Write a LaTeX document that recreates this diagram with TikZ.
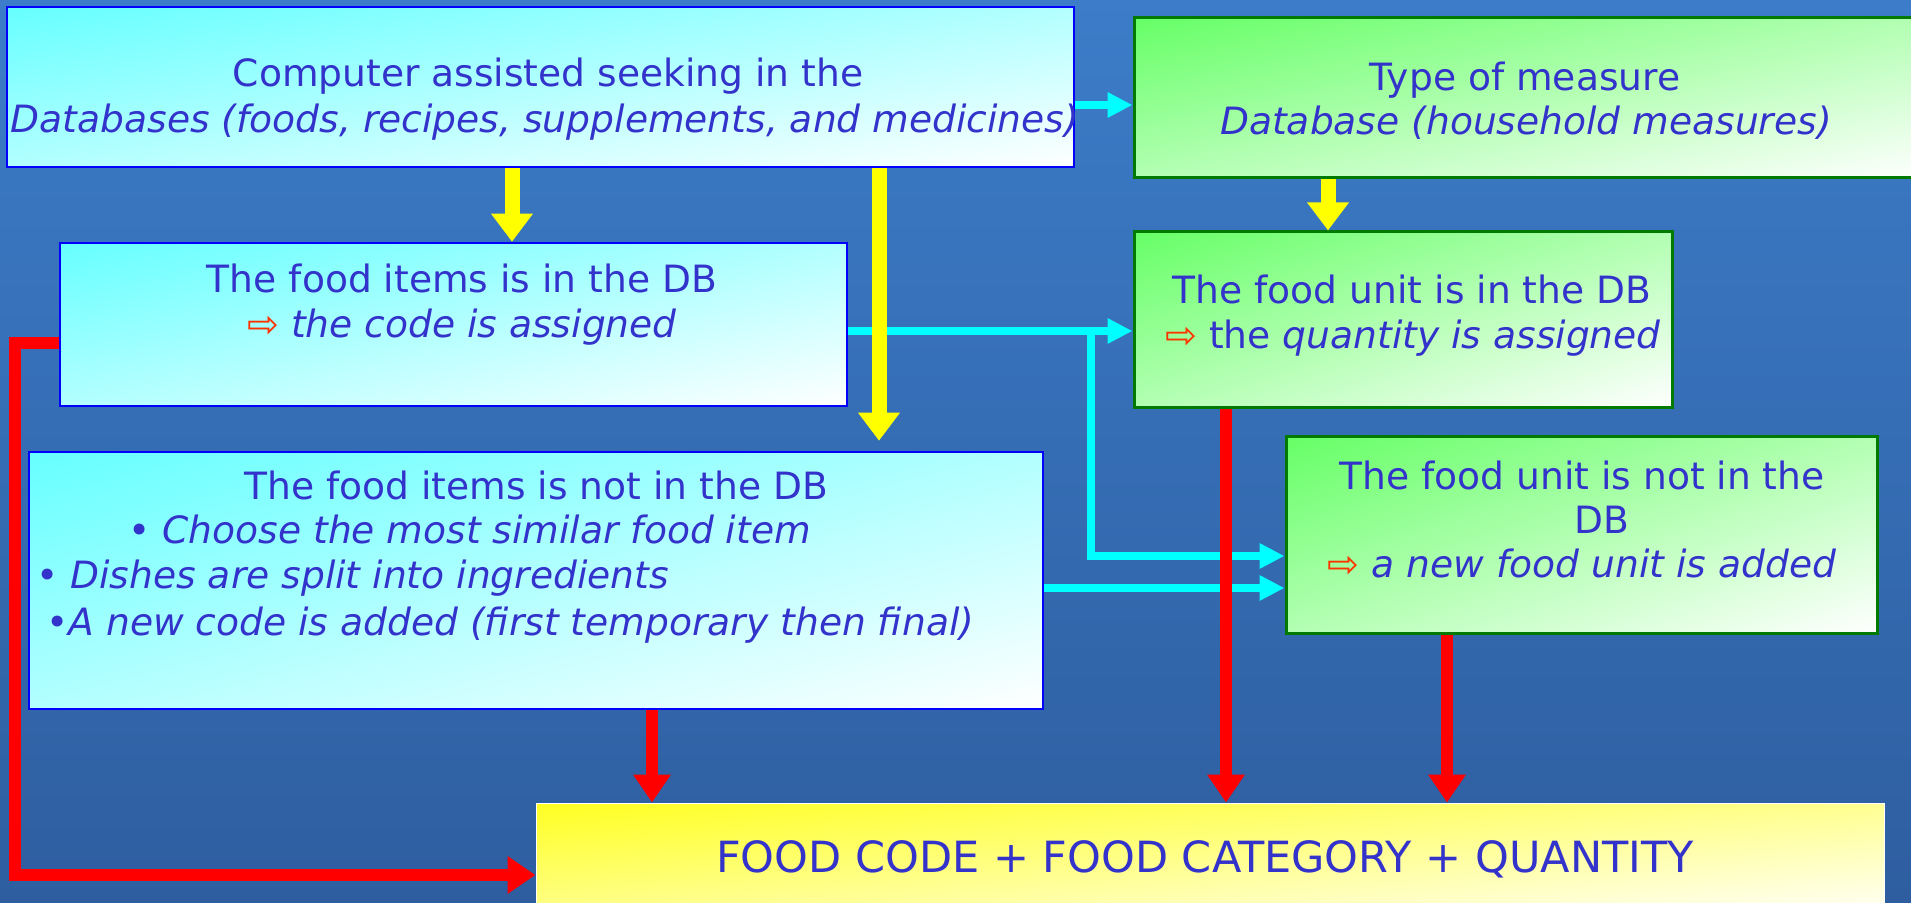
\documentclass[tikz,border=0pt]{standalone}
\usepackage{fontspec}
\setmainfont{DejaVu Sans}
\usetikzlibrary{arrows.meta,calc}
\definecolor{bgtop}{RGB}{60,124,200}
\definecolor{bgbot}{RGB}{46,94,160}
\definecolor{textblue}{RGB}{51,51,204}
\definecolor{cyanfill}{RGB}{102,255,255}
\definecolor{greenfill}{RGB}{102,255,102}
\definecolor{yellowfill}{RGB}{255,255,34}
\definecolor{arrcyan}{RGB}{0,255,255}
\definecolor{arryellow}{RGB}{255,255,0}
\definecolor{arrred}{RGB}{255,0,0}
\definecolor{arrorange}{RGB}{255,51,0}
\definecolor{borderblue}{RGB}{0,0,255}
\definecolor{bordergreen}{RGB}{0,122,0}
\newcommand{\fatarr}{{\color{arrorange}\fontsize{19pt}{19pt}\selectfont ⇨}}
% gradient from top-left corner to bottom-right corner, isolines along the anti-diagonal
\newcommand{\gradrect}[5]{%
  \pgfmathsetmacro{\gcx}{(#1+#3)/2}\pgfmathsetmacro{\gcy}{(#2+#4)/2}%
  \pgfmathsetmacro{\gsx}{(#3-#1)/200}\pgfmathsetmacro{\gsy}{(#4-#2)/200}%
  \begin{scope}
    \clip (#1,#2) rectangle (#3,#4);
    \begin{scope}[transform canvas={shift={(\gcx,\gcy)}, xscale=\gsx, yscale=\gsy, rotate=45}]
      \shade[top color=#5, bottom color=white] (-71pt,-71pt) rectangle (71pt,71pt);
    \end{scope}
  \end{scope}}
\begin{document}
\begin{tikzpicture}[x=0.5pt,y=-0.5pt,
  cbox/.style={draw=borderblue, line width=1.25pt, inner sep=0},
  gbox/.style={draw=bordergreen, line width=1.5pt, inner sep=0},
  ybox/.style={draw=white, line width=0.5pt, inner sep=0},
  tx/.style={text=textblue, font=\fontsize{18.8pt}{23pt}\selectfont, inner sep=0, anchor=base},
  txl/.style={tx, anchor=base west},
  yarr/.style={draw=arryellow, line width=7.5pt, -{Triangle[width=20pt,length=14pt]}},
  rarr/.style={draw=arrred, line width=6pt, -{Triangle[width=18pt,length=14pt]}},
  carr/.style={draw=arrcyan, line width=4pt, -{Triangle[width=12pt,length=12.5pt]}}]
\useasboundingbox (0,0) rectangle (1911,903);
\clip (0,0) rectangle (1911,903);
\fill[top color=bgtop, bottom color=bgbot] (0,0) rectangle (1911,903);

% box fills
\gradrect{7}{7}{1074}{167}{cyanfill}
\gradrect{1134}{18}{1925}{178}{greenfill}
\gradrect{60}{243}{847}{406}{cyanfill}
\gradrect{1134}{232}{1672}{408}{greenfill}
\gradrect{29}{452}{1043}{709}{cyanfill}
\gradrect{1286}{437}{1877}{633}{greenfill}
\gradrect{536}{803}{1884}{920}{yellowfill}

% boxes
\node[cbox, minimum width=533.5pt, minimum height=80pt] (b1) at (540.5,87) {};
\node[gbox, minimum width=395.5pt, minimum height=80pt] (b2) at (1529.5,98) {};
\node[cbox, minimum width=393.5pt, minimum height=81.5pt] (b3) at (453.5,324.5) {};
\node[gbox, minimum width=269pt, minimum height=88pt] (b4) at (1403,320) {};
\node[cbox, minimum width=507pt, minimum height=128.5pt] (b5) at (536,580.5) {};
\node[gbox, minimum width=295.5pt, minimum height=98pt] (b6) at (1581.5,535) {};
\node[ybox, minimum width=674pt, minimum height=58.5pt] (b7) at (1210,861.5) {};

% texts
\node[tx] (t1a) at (548,87) {Computer assisted seeking in the};
\node[tx] (t1b) at (545,133) {\itshape Databases (foods, recipes, supplements, and medicines)};
\node[tx] (t2a) at (1525,91) {Type of measure};
\node[tx] (t2b) at (1526,135) {\itshape Database (household measures)};
\node[tx] (t3a) at (462,293) {The food items is in the DB};
\node[tx] (t3b) at (462,338) {\fatarr\ \itshape the code is assigned};
\node[tx] (t4a) at (1412,304) {The food unit is in the DB};
\node[tx] (t4b) at (1413,349) {\fatarr\ the \itshape quantity is assigned};
\node[tx] (t5a) at (536,499) {The food items is not in the DB};
\node[txl] (t5b) at (128,543) {• \itshape Choose the most similar food item};
\node[txl] (t5c) at (36,588) {• \itshape Dishes are split into ingredients};
\node[txl] (t5d) at (46,635) {•\itshape A new code is added (first temporary then final)};
\node[tx] (t6a) at (1582,489) {The food unit is not in the};
\node[tx] (t6b) at (1602,533) {DB};
\node[tx] (t6c) at (1582,577) {\fatarr\ \itshape a new food unit is added};
\node[tx, font=\fontsize{21.5pt}{25pt}\selectfont] (t7) at (1205,872) {FOOD CODE + FOOD CATEGORY + QUANTITY};

% cyan connectors
\coordinate (cy1) at (0,105);
\coordinate (cy2) at (0,331);
\coordinate (jn) at (1091,331);
\coordinate (cy3) at (0,556);
\coordinate (cy4) at (0,588);
\draw[carr] (b1.east |- cy1) -- (b2.west |- cy1);
\draw[carr] (b3.east |- cy2) -- (b4.west |- cy2);
\draw[carr] (jn) |- (b6.west |- cy3);
\draw[carr] (b5.east |- cy4) -- (b6.west |- cy4);

% yellow connectors
\coordinate (xy1) at (512,0);
\coordinate (xy2) at (879,0);
\coordinate (xy3) at (1328,0);
\draw[yarr] (b1.south -| xy1) -- (b3.north -| xy1);
\draw[yarr, shorten >=5pt] (b1.south -| xy2) -- (b5.north -| xy2);
\draw[yarr] (b2.south -| xy3) -- (b4.north -| xy3);

% red connectors
\coordinate (ry1) at (0,343);
\coordinate (rx0) at (15,0);
\coordinate (ry2) at (0,875);
\coordinate (rx2) at (652,0);
\coordinate (rx3) at (1226,0);
\coordinate (rx4) at (1447,0);
\draw[rarr] (b3.west |- ry1) -| (rx0 |- ry2) -- (b7.west |- ry2);
\draw[rarr] (b5.south -| rx2) -- (b7.north -| rx2);
\draw[rarr] (b4.south -| rx3) -- (b7.north -| rx3);
\draw[rarr] (b6.south -| rx4) -- (b7.north -| rx4);
\end{tikzpicture}
\end{document}
